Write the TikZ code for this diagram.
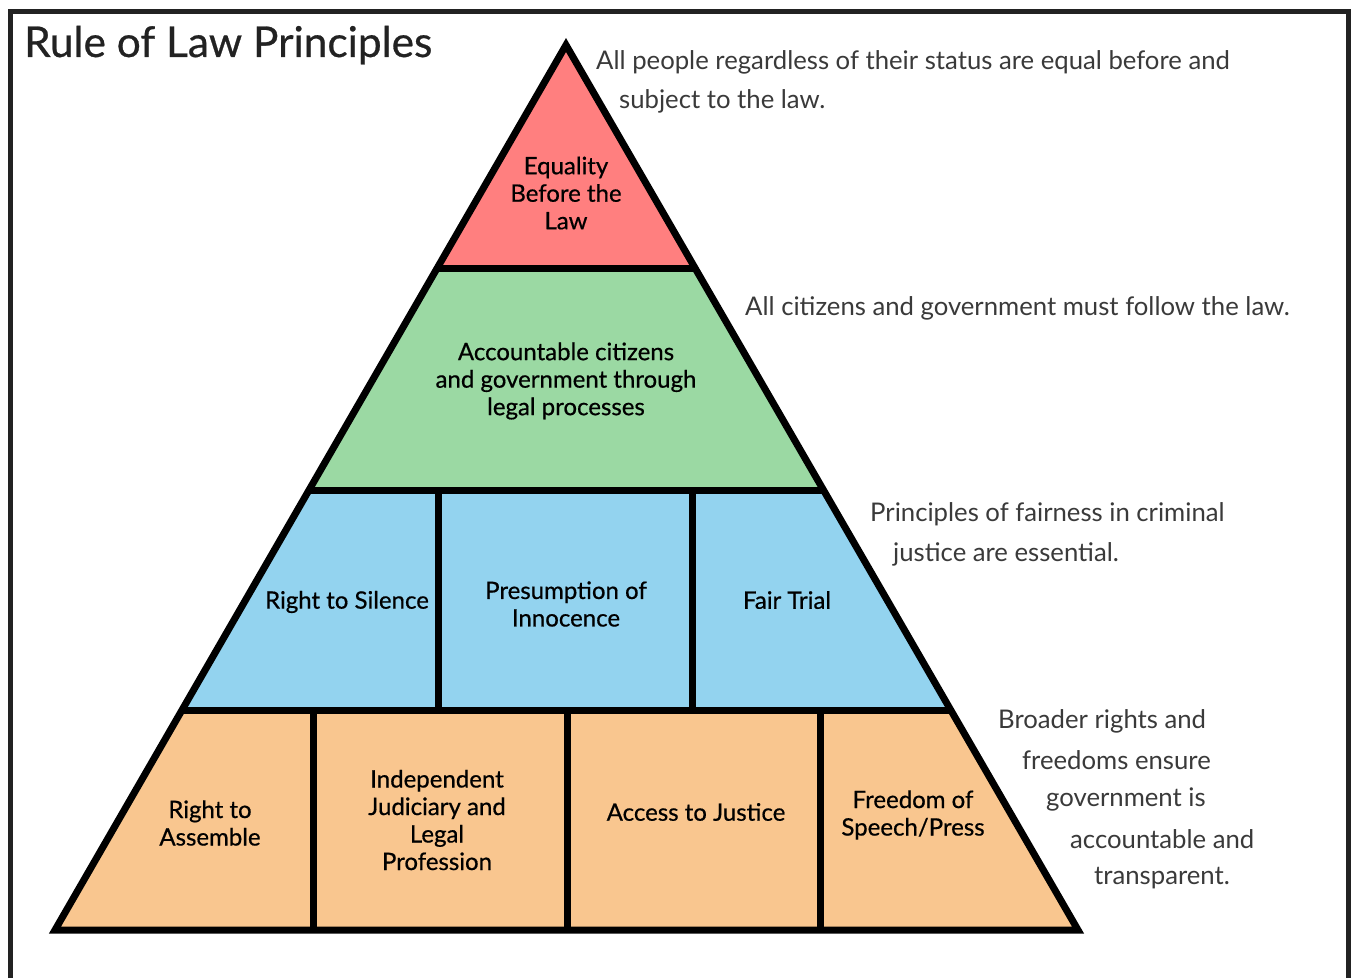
\documentclass[tikz,border=0pt]{standalone}
\usepackage{fontspec}
\setmainfont{Lato}
\newfontfamily\labfont{Lato}[UprightFeatures={FakeBold=0.6}]
\definecolor{redl}{HTML}{FF7F7F}
\definecolor{greenl}{HTML}{9BD9A3}
\definecolor{bluel}{HTML}{93D3EF}
\definecolor{orangel}{HTML}{F9C68F}
\definecolor{framec}{HTML}{222222}
\definecolor{notec}{HTML}{3A3A3A}
\tikzset{
  lab/.style={align=center, font=\labfont\fontsize{24}{27.5}\selectfont, text=black, inner sep=0pt},
  note/.style={anchor=west, font=\fontsize{25.7}{28}\selectfont, text=notec, inner sep=0pt},
  edge/.style={line width=7pt, black, line join=miter},
}
\begin{document}
\begin{tikzpicture}[x=1pt,y=-1pt]
\useasboundingbox (0,0) rectangle (1354,978);
\fill[white] (0,0) rectangle (1354,978);
% frame
\draw[framec, line width=5pt] (10,978) -- (10,11) -- (1348,11) -- (1348,978);
% layer corner coordinates
\coordinate (A) at (566,45);
\coordinate (L1) at (437,268); \coordinate (R1) at (695,268);
\coordinate (L2) at (308.6,490); \coordinate (R2) at (823.4,490);
\coordinate (L3) at (181.3,710); \coordinate (R3) at (950.7,710);
\coordinate (BL) at (55,930); \coordinate (BR) at (1078,930);
% fills
\fill[redl] (A) -- (R1) -- (L1) -- cycle;
\fill[greenl] (L1) -- (R1) -- (R2) -- (L2) -- cycle;
\fill[bluel] (L2) -- (R2) -- (R3) -- (L3) -- cycle;
\fill[orangel] (L3) -- (R3) -- (BR) -- (BL) -- cycle;
% separators
\coordinate (b1t) at (438,490); \coordinate (b1b) at (438,710);
\coordinate (b2t) at (692,490); \coordinate (b2b) at (692,710);
\coordinate (o1t) at (313,710); \coordinate (o1b) at (313,930);
\coordinate (o2t) at (567,710); \coordinate (o2b) at (567,930);
\coordinate (o3t) at (820,710); \coordinate (o3b) at (820,930);
\draw[edge] (L1) -- (R1);
\draw[edge] (L2) -- (R2);
\draw[edge] (L3) -- (R3);
\draw[edge] (b1t) -- (b1b);
\draw[edge] (b2t) -- (b2b);
\draw[edge] (o1t) -- (o1b);
\draw[edge] (o2t) -- (o2b);
\draw[edge] (o3t) -- (o3b);
\draw[edge] (A) -- (BR) -- (BL) -- cycle;
% title
\node[anchor=west, inner sep=0pt, text=framec, font=\labfont\fontsize{42.4}{46}\selectfont] (title) at (24,45) {Rule of Law Principles};
% labels
\node[lab] (eq) at (566,193) {Equality\\Before the\\Law};
\node[lab] (acc) at (566,381) {Accountable citizens\\and government through\\legal processes};
\node[lab] (sil) at (347,602) {Right to Silence};
\node[lab] (pres) at (566,604) {Presumption of\\Innocence};
\node[lab] (fair) at (787,600) {Fair Trial};
\node[lab] (asm) at (210,823) {Right to\\Assemble};
\node[lab] (jud) at (437,820) {Independent\\Judiciary and\\Legal\\Profession};
\node[lab] (ajus) at (696,812) {Access to Justice};
\node[lab] (free) at (913,815) {Freedom of\\Speech/Press};
% notes
\node[note] (n1a) at (596,62) {All people regardless of their status are equal before and};
\node[note] (n1b) at (619,101) {subject to the law.};
\node[note] (n2) at (745,308) {All citizens and government must follow the law.};
\node[note] (n3a) at (870,514) {Principles of fairness in criminal};
\node[note] (n3b) at (893,554) {justice are essential.};
\node[note] (n4a) at (998,721) {Broader rights and};
\node[note] (n4b) at (1022,760) {freedoms ensure};
\node[note] (n4c) at (1046,799) {government is};
\node[note] (n4d) at (1070,839) {accountable and};
\node[note] (n4e) at (1094,878) {transparent.};
\end{tikzpicture}
\end{document}
